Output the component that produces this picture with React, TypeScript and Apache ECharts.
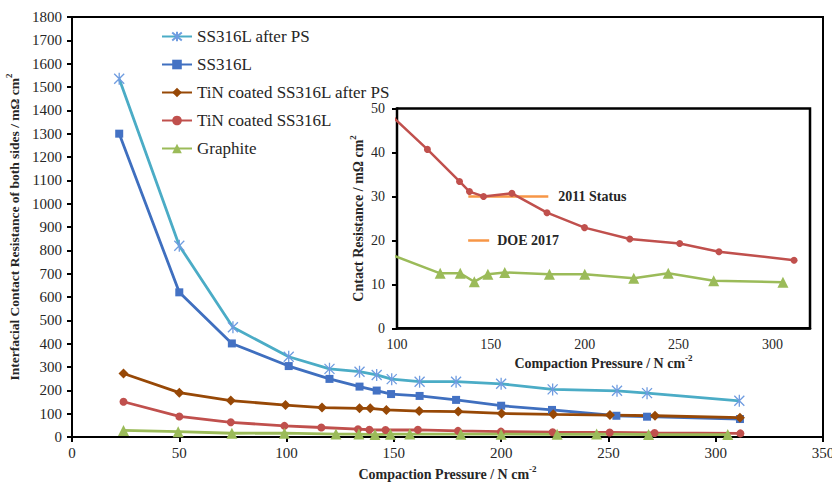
import React, { useEffect, useRef } from "react";
import * as echarts from "echarts";

// ---- data (x: compaction pressure N/cm2, y: resistance mΩ cm2) ----
const ssAfterPS = [[22,1535],[50,820],[75,470],[101,344],[120,292],[134,280],[142,266],[149,248],[162,237],[179,237],[200,228],[224,204],[254,198],[268,188],[311,155]];
const ss316L = [[22,1300],[50,620],[74.5,401],[101,304],[120,249],[134,216],[142,199],[148.7,184],[162,176],[179,159],[200,134],[223.7,116],[253.7,91],[268,87],[311.3,77]];
const tinAfterPS = [[24,272],[50,190],[74,156],[99.5,137],[116.5,126],[134,123],[139,123],[146.5,116],[161.8,111],[180,109],[200.2,101],[224.3,97],[250.7,94],[271.7,91],[311.3,83]];
const tinCoated = [[24,151],[50,88],[74,63],[99,47.6],[116.2,40.7],[133.3,33.4],[138.6,31.1],[146.1,30],[161.2,30.7],[179.9,26.3],[199.9,22.9],[224,20.3],[250.6,19.3],[271.5,17.4],[311.5,15.5]];
const graphite = [[24,28],[49.5,23],[74.5,16],[99,16.4],[123,12.5],[133.7,12.5],[141.2,10.6],[148.4,12.3],[157.4,12.7],[181.2,12.3],[200,12.3],[226.1,11.4],[244.5,12.5],[268.7,10.8],[305.6,10.5]];
const status2011 = [[138,30],[180.6,30]];
const doe2017 = [[137.9,20],[149.1,20]];

const legendNames = ["SS316L after PS", "SS316L", "TiN coated SS316L after PS", "TiN coated SS316L", "Graphite"];

const FONT = "Liberation Serif";
const TXT = "#262626";
const STAR = "path://M0,0L10,10M10,0L0,10M5,-1L5,11";

export default function App() {
  const ref = useRef<HTMLDivElement>(null);
  useEffect(() => {
    document.body.style.margin = "0";
    const chart = echarts.init(ref.current!, null, { renderer: "svg" });
    const richTitle = (size: number) => ({
      a: { fontFamily: FONT, fontWeight: "bold", fontSize: size, color: TXT, lineHeight: 20, verticalAlign: "middle" },
      s: { fontFamily: FONT, fontWeight: "bold", fontSize: 9, color: TXT, lineHeight: 10, verticalAlign: "top" },
    });
    const plain = (v: number) => String(v);
    const lineCommon = { type: "line", clip: true, symbolKeepAspect: true };
    const endLbl = (text: string, dist: number, pr: number) => ({
      show: true, formatter: text, distance: dist, fontFamily: FONT, fontWeight: "bold", fontSize: 14,
      color: TXT, backgroundColor: "#fff", padding: [3, pr, 3, 6],
    });
    chart.setOption({
      animation: false,
      backgroundColor: "#fff",
      textStyle: { fontFamily: FONT },
      legend: {
        data: legendNames,
        orient: "vertical",
        left: 161,
        top: 28,
        padding: 0,
        itemGap: 11,
        itemWidth: 30,
        itemHeight: 12,
        textStyle: { fontFamily: FONT, fontSize: 17, color: TXT, lineHeight: 16.5 },
      },
      grid: [
        { left: 72, top: 17, right: 9, bottom: 45, containLabel: false, outerBoundsMode: "none",
          show: true, borderColor: "#000", borderWidth: 2, backgroundColor: "#fff" },
        { left: 397, top: 108.5, right: 22, bottom: 153.7, containLabel: false, outerBoundsMode: "none",
          show: true, borderColor: "#000", borderWidth: 2.5, backgroundColor: "#fff", z: 1 },
      ],
      xAxis: [
        {
          type: "value", gridIndex: 0, min: 0, max: 350, interval: 50,
          axisLine: { show: true, lineStyle: { color: "#000", width: 2 } },
          axisTick: { show: true, length: 5, lineStyle: { color: "#000", width: 2 } },
          axisLabel: { fontFamily: FONT, fontSize: 15, color: TXT, margin: 8, formatter: plain },
          splitLine: { show: false },
          name: "{a|Compaction Pressure / N cm}{s|-2}",
          nameLocation: "middle", nameGap: 27,
          nameTextStyle: { rich: richTitle(14) },
        },
        {
          type: "value", gridIndex: 1, min: 100, max: 320, interval: 10,
          axisLine: { show: true, onZero: false, lineStyle: { color: "#000", width: 2.5 } },
          axisTick: { show: false },
          axisLabel: { fontFamily: FONT, fontSize: 14, color: TXT, margin: 9, formatter: (v: number) => (v % 50 === 0 ? String(v) : "") },
          splitLine: { show: true, lineStyle: { color: "#c8c8c8", width: 1.2 } },
          name: "{a|Compaction Pressure / N cm}{s|-2}",
          nameLocation: "middle", nameGap: 25,
          nameTextStyle: { rich: richTitle(14) },
        },
      ],
      yAxis: [
        {
          type: "value", gridIndex: 0, min: 0, max: 1800, interval: 100,
          axisLine: { show: true, lineStyle: { color: "#000", width: 2 } },
          axisTick: { show: true, length: 5, lineStyle: { color: "#000", width: 2 } },
          axisLabel: { fontFamily: FONT, fontSize: 15, color: TXT, margin: 10, formatter: plain },
          splitLine: { show: false },
          name: "{a|Interfacial Contact Resistance of both sides / mΩ cm}{s|2}",
          nameLocation: "middle", nameGap: 33, nameRotate: 90,
          nameTextStyle: { rich: richTitle(13.5) },
        },
        {
          type: "value", gridIndex: 1, min: 0, max: 50, interval: 10,
          axisLine: { show: true, onZero: false, lineStyle: { color: "#000", width: 2.5 } },
          axisTick: { show: true, length: 5, lineStyle: { color: "#000", width: 2 } },
          axisLabel: { fontFamily: FONT, fontSize: 14, color: TXT, margin: 12, formatter: plain },
          splitLine: { show: true, lineStyle: { color: "#c8c8c8", width: 1.2 } },
          name: "{a|Cntact Resistance / mΩ cm}{s|2}",
          nameLocation: "middle", nameGap: 29, nameRotate: 90,
          nameTextStyle: { rich: richTitle(14) },
        },
      ],
      series: [
        { ...lineCommon, name: "SS316L after PS", data: ssAfterPS, xAxisIndex: 0, yAxisIndex: 0,
          symbol: STAR, symbolSize: 12,
          itemStyle: { color: "#6f9ce0", borderColor: "#6f9ce0", borderWidth: 1.3 },
          lineStyle: { color: "#4bacc6", width: 2.8 } },
        { ...lineCommon, name: "SS316L", data: ss316L, xAxisIndex: 0, yAxisIndex: 0,
          symbol: "rect", symbolSize: 8,
          itemStyle: { color: "#4472c4" }, lineStyle: { color: "#3f6fbf", width: 2.8 } },
        { ...lineCommon, name: "TiN coated SS316L after PS", data: tinAfterPS, xAxisIndex: 0, yAxisIndex: 0,
          symbol: "diamond", symbolSize: 10,
          itemStyle: { color: "#974806" }, lineStyle: { color: "#974806", width: 2.8 } },
        { ...lineCommon, name: "TiN coated SS316L", data: tinCoated, xAxisIndex: 0, yAxisIndex: 0,
          symbol: "circle", symbolSize: 8,
          itemStyle: { color: "#c0504d" }, lineStyle: { color: "#c0504d", width: 2.8 } },
        { ...lineCommon, name: "Graphite", data: graphite, xAxisIndex: 0, yAxisIndex: 0,
          symbol: "triangle", symbolSize: 11,
          itemStyle: { color: "#9bbb59" }, lineStyle: { color: "#9bbb59", width: 2.8 } },
        // inset
        { ...lineCommon, name: "TiN coated SS316L (inset)", data: tinCoated, xAxisIndex: 1, yAxisIndex: 1,
          symbol: "circle", symbolSize: 7, z: 5,
          itemStyle: { color: "#c0504d" }, lineStyle: { color: "#c0504d", width: 2.5 } },
        { ...lineCommon, name: "Graphite (inset)", data: graphite, xAxisIndex: 1, yAxisIndex: 1,
          symbol: "triangle", symbolSize: 11, z: 5,
          itemStyle: { color: "#9bbb59" }, lineStyle: { color: "#9bbb59", width: 2.5 } },
        { ...lineCommon, name: "2011 Status", data: status2011, xAxisIndex: 1, yAxisIndex: 1, symbol: "none", z: 4,
          lineStyle: { color: "#f79646", width: 2.5 },
          endLabel: endLbl("2011 Status", 4, 14) },
        { ...lineCommon, name: "DOE 2017", data: doe2017, xAxisIndex: 1, yAxisIndex: 1, symbol: "none", z: 4,
          lineStyle: { color: "#f79646", width: 2.5 },
          endLabel: endLbl("DOE 2017", 2, 11) },
      ],
    });
    return () => chart.dispose();
  }, []);
  return <div ref={ref} style={{ position: "fixed", left: 0, top: 0, width: 832, height: 482 }} />;
}
